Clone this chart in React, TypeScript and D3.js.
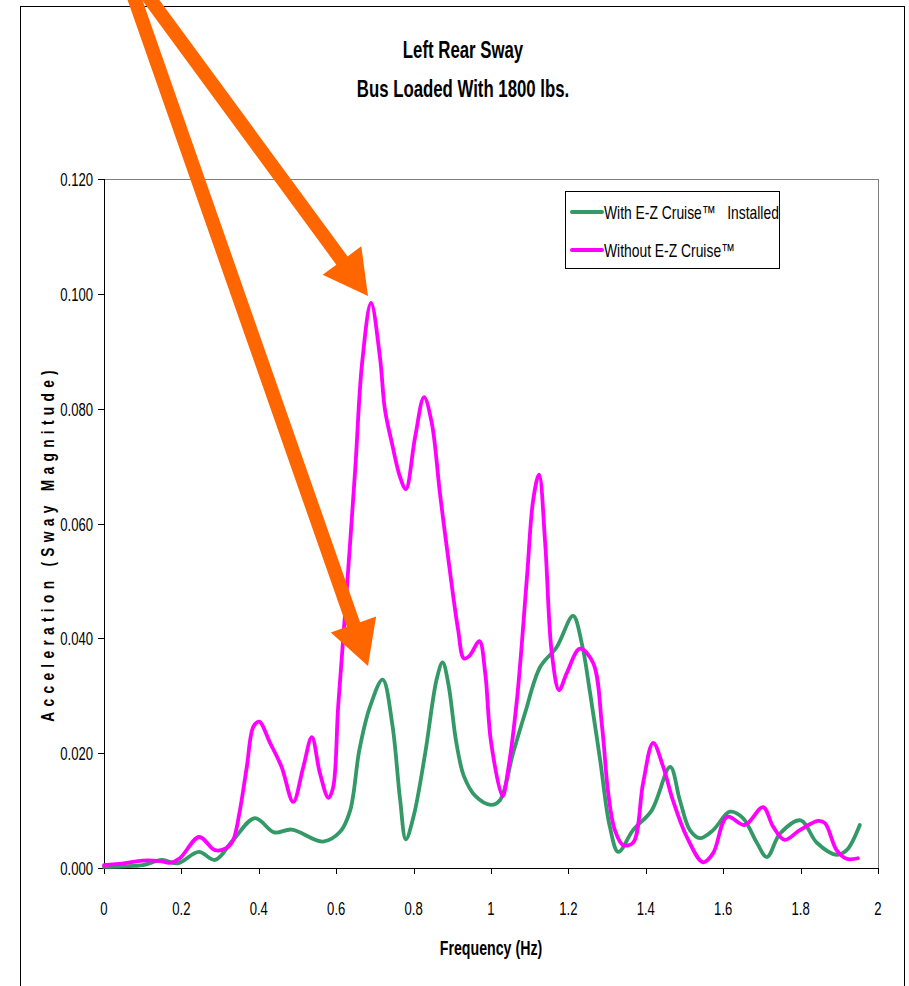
import React from "react";
import * as d3 from "d3";

const withFreq = [0, 0.05, 0.1, 0.15, 0.19, 0.245, 0.287, 0.334, 0.39, 0.44, 0.485, 0.566, 0.61, 0.636, 0.66, 0.687, 0.72, 0.745, 0.765, 0.78, 0.8, 0.83, 0.86, 0.875, 0.89, 0.91, 0.93, 0.96, 1.0, 1.023, 1.057, 1.088, 1.127, 1.17, 1.212, 1.235, 1.256, 1.282, 1.307, 1.329, 1.367, 1.415, 1.463, 1.488, 1.514, 1.54, 1.574, 1.617, 1.651, 1.687, 1.713, 1.747, 1.8, 1.842, 1.893, 1.919, 1.953];
const withVals = [0.0002, 0.0003, 0.0005, 0.0014, 0.0008, 0.0028, 0.0014, 0.0049, 0.0087, 0.0062, 0.0067, 0.0046, 0.0063, 0.010, 0.0206, 0.028, 0.0328, 0.025, 0.012, 0.005, 0.009, 0.020, 0.033, 0.0358, 0.032, 0.022, 0.016, 0.0125, 0.011, 0.0118, 0.020, 0.027, 0.035, 0.0385, 0.0439, 0.039, 0.0305, 0.0188, 0.0072, 0.0028, 0.0066, 0.010, 0.0176, 0.0118, 0.0066, 0.0052, 0.0066, 0.0098, 0.0087, 0.0044, 0.0019, 0.006, 0.0083, 0.0044, 0.0023, 0.0031, 0.0075];

const withoutFreq = [0, 0.05, 0.1, 0.145, 0.17, 0.196, 0.246, 0.287, 0.317, 0.334, 0.35, 0.369, 0.386, 0.401, 0.429, 0.459, 0.489, 0.515, 0.537, 0.558, 0.58, 0.592, 0.605, 0.623, 0.649, 0.667, 0.69, 0.713, 0.726, 0.744, 0.765, 0.78, 0.804, 0.827, 0.847, 0.868, 0.889, 0.915, 0.93, 0.945, 0.97, 0.985, 1.0, 1.03, 1.044, 1.067, 1.093, 1.109, 1.124, 1.14, 1.157, 1.176, 1.196, 1.23, 1.264, 1.287, 1.303, 1.32, 1.341, 1.367, 1.393, 1.419, 1.445, 1.47, 1.506, 1.548, 1.574, 1.61, 1.656, 1.703, 1.729, 1.759, 1.798, 1.845, 1.863, 1.893, 1.919, 1.948];
const withoutVals = [0.0005, 0.0008, 0.0013, 0.0012, 0.0009, 0.0017, 0.0054, 0.0031, 0.0035, 0.0049, 0.0096, 0.0176, 0.0246, 0.0255, 0.0218, 0.0176, 0.0115, 0.0176, 0.0228, 0.0165, 0.0122, 0.014, 0.028, 0.0444, 0.0693, 0.088, 0.0984, 0.089, 0.0798, 0.074, 0.0681, 0.066, 0.0751, 0.082, 0.0775, 0.0653, 0.0542, 0.0415, 0.0365, 0.037, 0.0395, 0.034, 0.022, 0.0125, 0.017, 0.0293, 0.0507, 0.0641, 0.0685, 0.0566, 0.0375, 0.031, 0.034, 0.0382, 0.0357, 0.0246, 0.013, 0.0066, 0.004, 0.0044, 0.0148, 0.0218, 0.0176, 0.0118, 0.0054, 0.001, 0.0026, 0.0089, 0.0075, 0.0106, 0.0072, 0.0049, 0.0066, 0.0082, 0.0078, 0.0031, 0.0016, 0.0017];

const xTicks = [0, 0.2, 0.4, 0.6, 0.8, 1, 1.2, 1.4, 1.6, 1.8, 2];
const yTicks = [0, 0.02, 0.04, 0.06, 0.08, 0.1, 0.12];
const seriesNames = ["With E-Z Cruise\u2122   Installed", "Without E-Z Cruise\u2122"];
const titleLines = ["Left Rear Sway", "Bus Loaded With 1800 lbs."];

const FONT = "'Liberation Sans', Arial, sans-serif";
const GREEN = "#339966";
const PINK = "#FF00FF";
const ORANGE = "#FF6600";

function NText({
  x, y, size, sx = 0.72, anchor = "start", weight = "normal", children,
}: {
  x: number; y: number; size: number; sx?: number; anchor?: string; weight?: string; children: React.ReactNode;
}) {
  return (
    <text
      transform={`translate(${x},${y}) scale(${sx},1)`}
      textAnchor={anchor as any}
      fontSize={size}
      fontWeight={weight}
      fill="#000"
      style={{ whiteSpace: "pre" }}
    >
      {children}
    </text>
  );
}

function Arrow({ x0, y0, x1, y1 }: { x0: number; y0: number; x1: number; y1: number }) {
  const dx = x1 - x0, dy = y1 - y0;
  const len = Math.hypot(dx, dy);
  const ux = dx / len, uy = dy / len;
  const px = -uy, py = ux;
  const headLen = 44, headHalf = 24, shaftHalf = 7;
  const bx = x1 - ux * headLen, by = y1 - uy * headLen;
  const pts = [
    [x0 + px * shaftHalf, y0 + py * shaftHalf],
    [bx + px * shaftHalf, by + py * shaftHalf],
    [bx + px * headHalf, by + py * headHalf],
    [x1, y1],
    [bx - px * headHalf, by - py * headHalf],
    [bx - px * shaftHalf, by - py * shaftHalf],
    [x0 - px * shaftHalf, y0 - py * shaftHalf],
  ];
  return <polygon points={pts.map((p) => p.join(",")).join(" ")} fill={ORANGE} />;
}

export default function App() {
  const left = 104, right = 878, top = 179, bottom = 868;
  const x = d3.scaleLinear().domain([0, 2]).range([left, right]);
  const y = d3.scaleLinear().domain([0, 0.12]).range([bottom, top]);
  const line = d3
    .line<[number, number]>()
    .x((d) => x(d[0]))
    .y((d) => y(d[1]))
    .curve(d3.curveCatmullRom.alpha(0.5));
  const withData = withFreq.map((f, i) => [f, withVals[i]] as [number, number]);
  const withoutData = withoutFreq.map((f, i) => [f, withoutVals[i]] as [number, number]);

  return (
    <svg
      width={909}
      height={986}
      style={{ position: "absolute", left: 0, top: 0, background: "#fff" }}
      fontFamily={FONT}
    >
      <rect x={0} y={0} width={909} height={986} fill="#fff" />
      <rect x={20.5} y={6.5} width={884} height={1000} fill="none" stroke="#000" strokeWidth={1} />
      {titleLines.map((t, i) => (
        <NText key={t} x={463} y={58 + i * 39} size={23} sx={0.73} anchor="middle" weight="bold">
          {t}
        </NText>
      ))}
      {/* plot frame */}
      <line x1={left} y1={top + 0.5} x2={right} y2={top + 0.5} stroke="#808080" strokeWidth={1} />
      <line x1={right + 0.5} y1={top} x2={right + 0.5} y2={bottom} stroke="#808080" strokeWidth={1} />
      <line x1={left + 0.5} y1={top} x2={left + 0.5} y2={bottom} stroke="#000" strokeWidth={1} />
      <line x1={left} y1={bottom + 0.5} x2={right + 1} y2={bottom + 0.5} stroke="#000" strokeWidth={1} />
      {yTicks.map((t) => (
        <g key={t}>
          <line x1={left - 6} x2={left} y1={Math.round(y(t)) + 0.5} y2={Math.round(y(t)) + 0.5} stroke="#000" />
          <NText x={93} y={y(t) + 7} size={19} sx={0.69} anchor="end">
            {t.toFixed(3)}
          </NText>
        </g>
      ))}
      {xTicks.map((t) => (
        <g key={t}>
          <line x1={Math.round(x(t)) + 0.5} x2={Math.round(x(t)) + 0.5} y1={bottom} y2={bottom + 6} stroke="#000" />
          <NText x={x(t)} y={915} size={19} sx={0.69} anchor="middle">
            {String(t)}
          </NText>
        </g>
      ))}
      <NText x={491} y={955} size={20} sx={0.71} anchor="middle" weight="bold">
        Frequency (Hz)
      </NText>
      <text
        transform="translate(54,546) rotate(-90) scale(0.72,1)"
        textAnchor="middle"
        fontSize={19}
        fontWeight="bold"
        textLength={488}
        lengthAdjust="spacing"
        fill="#000"
      >
        Acceleration (Sway Magnitude)
      </text>
      <path d={line(withData) || ""} fill="none" stroke={GREEN} strokeWidth={3.8} strokeLinejoin="round" strokeLinecap="round" />
      <path d={line(withoutData) || ""} fill="none" stroke={PINK} strokeWidth={3.8} strokeLinejoin="round" strokeLinecap="round" />
      {/* legend */}
      <rect x={565.5} y={191.5} width={214} height={77} fill="#fff" stroke="#000" strokeWidth={1} />
      <line x1={572} x2={602} y1={212} y2={212} stroke={GREEN} strokeWidth={4} strokeLinecap="round" />
      <line x1={572} x2={602} y1={250} y2={250} stroke={PINK} strokeWidth={4} strokeLinecap="round" />
      <NText x={604} y={219} size={19} sx={0.73}>
        {seriesNames[0]}
      </NText>
      <NText x={604} y={257} size={19} sx={0.73}>
        {seriesNames[1]}
      </NText>
      {/* arrows */}
      <Arrow x0={128} x1={368} y0={-20} y1={666} />
      <Arrow x0={136} x1={368} y0={-20} y1={296} />
    </svg>
  );
}
